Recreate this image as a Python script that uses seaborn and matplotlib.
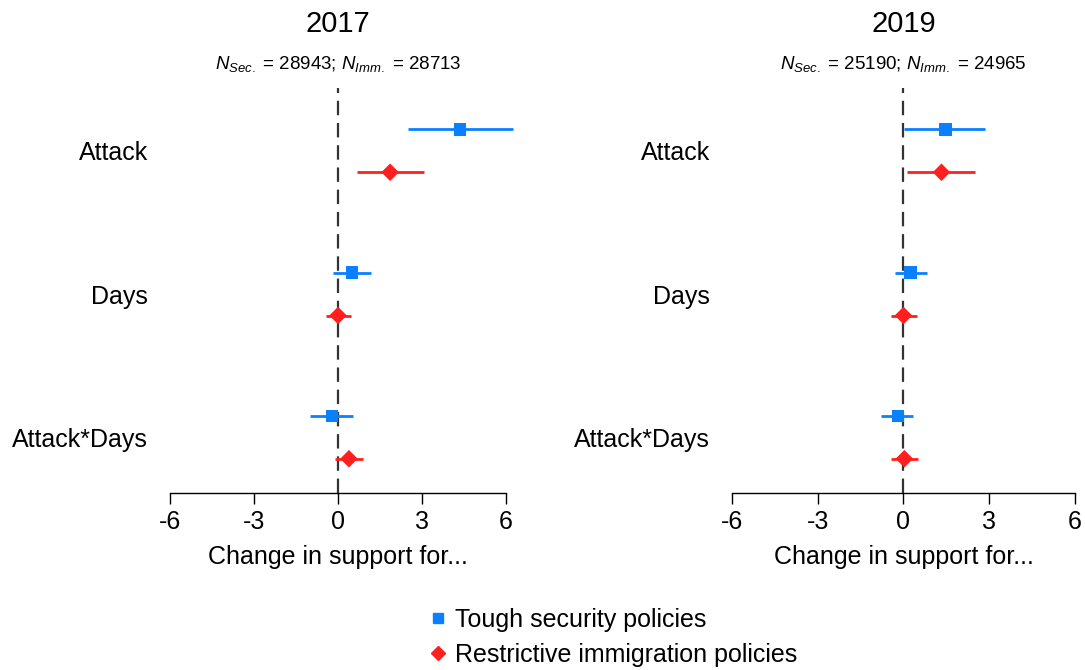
import matplotlib.pyplot as plt
import pandas as pd
import seaborn as sns
from matplotlib.lines import Line2D

# Werte
years = ["2017", "2019"]
n_labels = [r"$N_{Sec.}$ = 28943; $N_{Imm.}$ = 28713",
            r"$N_{Sec.}$ = 25190; $N_{Imm.}$ = 24965"]
terms = ["Attack", "Days", "Attack*Days"]
policies = ["Tough security policies", "Restrictive immigration policies"]

est_sec_2017 = [4.36, 0.50, -0.21]
lo_sec_2017 = [2.50, -0.18, -1.00]
hi_sec_2017 = [6.25, 1.18, 0.54]
est_imm_2017 = [1.86, 0.00, 0.39]
lo_imm_2017 = [0.68, -0.43, -0.10]
hi_imm_2017 = [3.07, 0.46, 0.89]

est_sec_2019 = [1.47, 0.24, -0.20]
lo_sec_2019 = [0.03, -0.28, -0.77]
hi_sec_2019 = [2.87, 0.84, 0.35]
est_imm_2019 = [1.33, 0.00, 0.03]
lo_imm_2019 = [0.14, -0.45, -0.42]
hi_imm_2019 = [2.52, 0.49, 0.52]

rows = []
for year, ests, los, his in [
        ("2017", [est_sec_2017, est_imm_2017], [lo_sec_2017, lo_imm_2017], [hi_sec_2017, hi_imm_2017]),
        ("2019", [est_sec_2019, est_imm_2019], [lo_sec_2019, lo_imm_2019], [hi_sec_2019, hi_imm_2019])]:
    for p, pol in enumerate(policies):
        for t, term in enumerate(terms):
            rows.append({"year": year, "policy": pol, "term": term,
                         "pos": t + (p - 0.5) * 0.3,
                         "est": ests[p][t], "lo": los[p][t], "hi": his[p][t]})
df = pd.DataFrame(rows)

colors = {policies[0]: "#0A80FF", policies[1]: "#FF1F1F"}
markers = {policies[0]: "s", policies[1]: "D"}

sns.set_style("white")
plt.rcParams["font.family"] = ["Liberation Sans", "DejaVu Sans"]
plt.rcParams["mathtext.fontset"] = "custom"
plt.rcParams["mathtext.rm"] = "Liberation Sans"
plt.rcParams["mathtext.it"] = "Liberation Sans:italic"
plt.rcParams["text.color"] = "black"
plt.rcParams["axes.labelcolor"] = "black"
plt.rcParams["xtick.color"] = "black"
plt.rcParams["ytick.color"] = "black"

fig = plt.figure(figsize=(10.85, 6.7), dpi=100)
ax1 = fig.add_axes([0.1567, 0.264, 0.3097, 0.605])
ax2 = fig.add_axes([0.6747, 0.264, 0.316, 0.605])

for ax, year, nlab in zip([ax1, ax2], years, n_labels):
    d = df[df.year == year]
    ax.axvline(0, color="#333333", lw=1.6, ls=(0, (6.5, 3.5)), zorder=1)
    for pol in policies:
        dp = d[d.policy == pol]
        ax.hlines(dp.pos, dp.lo, dp.hi, color=colors[pol], lw=2, zorder=2,
                  clip_on=False)
    sns.scatterplot(data=d, x="est", y="pos", hue="policy", style="policy",
                    palette=colors, markers=markers, s=80, edgecolor="none",
                    legend=False, ax=ax, zorder=3)
    ax.set_xlim(-6, 6)
    ax.set_ylim(2.39, -0.44)
    ax.set_xticks([-6, -3, 0, 3, 6])
    ax.set_xticklabels(["-6", "-3", "0", "3", "6"], fontsize=18)
    ax.set_yticks([0, 1, 2])
    ax.set_yticklabels(terms, fontsize=18)
    ax.tick_params(axis="y", left=False, length=0, pad=16)
    ax.tick_params(axis="x", bottom=True, length=8, width=1, color="black",
                   direction="out", pad=4)
    ax.set_xlabel("Change in support for...", fontsize=18, labelpad=8)
    ax.set_ylabel("")
    sns.despine(ax=ax, left=True)
    ax.spines["bottom"].set_color("black")
    ax.spines["bottom"].set_linewidth(1)
    ax.set_title(year, fontsize=21, pad=40)
    ax.text(0.5, 1.035, nlab, transform=ax.transAxes, ha="center", va="bottom", fontsize=13.5)

handles = [Line2D([], [], ls="none", marker=markers[p], color=colors[p],
                  markersize=7) for p in policies]
fig.legend(handles, policies, loc="upper left", bbox_to_anchor=(0.392, 0.093),
           frameon=False, fontsize=18, handletextpad=0.2, handlelength=1.0,
           labelspacing=0.45, borderaxespad=0, borderpad=0)

fig.savefig("out.png", dpi=100)
